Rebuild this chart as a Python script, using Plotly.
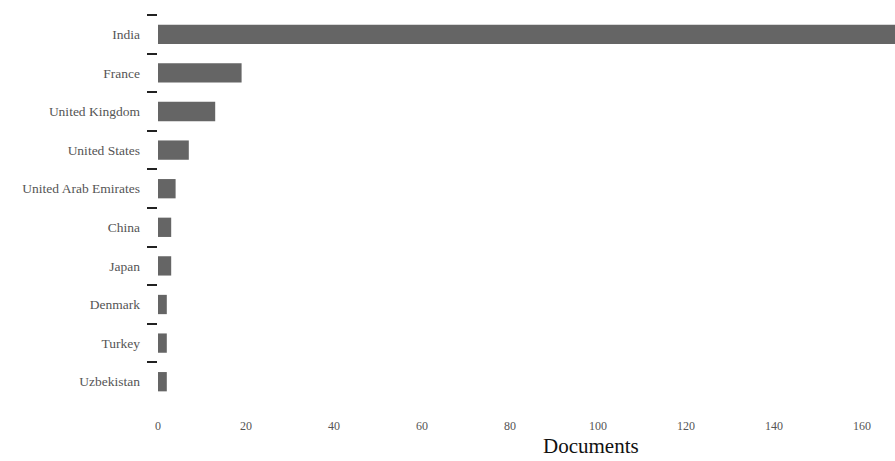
import plotly.graph_objects as go

countries = ["India", "France", "United Kingdom", "United States", "United Arab Emirates",
             "China", "Japan", "Denmark", "Turkey", "Uzbekistan"]
documents = [172, 19, 13, 7, 4, 3, 3, 2, 2, 2]
x_ticks = [0, 20, 40, 60, 80, 100, 120, 140, 160]

FONT = "Liberation Serif, Times New Roman, serif"

W, H = 895, 461
ML, MR, MT, MB = 158, 0, 15, 60

fig = go.Figure(go.Bar(
    x=documents, y=countries, orientation="h",
    marker=dict(color="#656565", line=dict(width=0)),
    width=0.5,
))

fig.update_layout(
    width=W, height=H,
    margin=dict(l=ML, r=MR, t=MT, b=MB, autoexpand=False),
    plot_bgcolor="white", paper_bgcolor="white",
    font=dict(family=FONT, color="#333"),
    showlegend=False,
    xaxis=dict(range=[0, 167.5], tickvals=x_ticks, showgrid=False, zeroline=False,
               showline=False, ticks="outside", ticklen=14, tickcolor="rgba(0,0,0,0)",
               automargin=False,
               tickfont=dict(size=12, color="#555", family=FONT)),
    yaxis=dict(categoryorder="array", categoryarray=countries, autorange="reversed",
               showgrid=False, zeroline=False, showline=False, automargin=False,
               ticks="outside", tickson="boundaries", ticklen=10, tickwidth=1.6,
               tickcolor="#222", ticklabelstandoff=17,
               tickfont=dict(size=13.5, color="#555", family=FONT)),
    annotations=[dict(text="Documents", xref="paper", yref="paper",
                      x=(591 - ML) / (W - ML - MR), y=-(MB - 1) / (H - MT - MB),
                      xanchor="center", yanchor="bottom",
                      showarrow=False, font=dict(size=21, color="#111", family=FONT))],
)

fig.write_html(
    "out.html",
    config={"displayModeBar": False},
    post_script="document.body.style.margin='0';document.body.style.overflow='hidden';",
)
